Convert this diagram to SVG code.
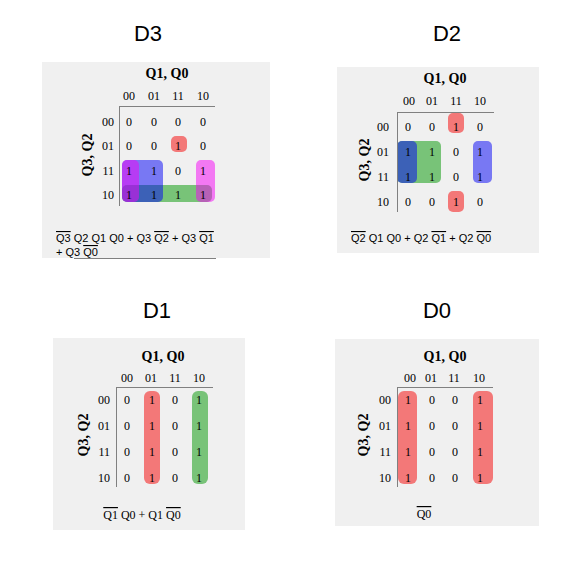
<svg xmlns="http://www.w3.org/2000/svg" width="583" height="574" viewBox="0 0 583 574">
<style>
.bg{fill:#f0f0f0}
.title{font-family:"Liberation Sans",Arial,sans-serif;font-size:22px;fill:#000;text-anchor:middle}
.hd{font-family:"Liberation Serif","Times New Roman",serif;font-size:14px;font-weight:bold;fill:#000;text-anchor:middle}
.c{font-family:"Liberation Serif","Times New Roman",serif;font-size:12px;fill:#000;text-anchor:middle}
.r{font-family:"Liberation Serif","Times New Roman",serif;font-size:12px;fill:#000;text-anchor:end}
.ex{font-family:"Liberation Sans",Arial,sans-serif;font-size:11px;fill:#000}
.exs{font-family:"Liberation Serif","Times New Roman",serif;font-size:12px;fill:#000;text-anchor:middle}
.ol{text-decoration:overline}
.g{stroke:#808080;stroke-width:1;fill:none}
.red{fill:rgba(245,0,0,0.5)}
.blue{fill:rgba(0,0,245,0.5)}
.green{fill:rgba(0,150,0,0.5)}
.mag{fill:rgba(245,0,245,0.5)}
</style>

<text class="title" x="148" y="41">D3</text>
<text class="title" x="447" y="41">D2</text>
<text class="title" x="157" y="318">D1</text>
<text class="title" x="437" y="318">D0</text>

<g id="D3">
<rect class="bg" x="42" y="62" width="228" height="196"/>
<line class="g" x1="74" y1="258.5" x2="216" y2="258.5" stroke="#a0a0a0"/>
<rect class="green" x="122" y="185" width="90" height="17" rx="5"/>
<rect class="blue" x="122" y="160" width="41" height="42" rx="5"/>
<rect class="mag" x="122" y="160" width="17" height="42" rx="5"/>
<rect class="mag" x="196" y="160" width="19" height="42" rx="5"/>
<rect class="red" x="171" y="136" width="16" height="16" rx="5"/>
<line class="g" x1="119.5" y1="107" x2="119.5" y2="206"/>
<line class="g" x1="119" y1="106.5" x2="215" y2="106.5"/>
<text class="hd" x="167" y="78">Q1, Q0</text>
<text class="hd" transform="translate(92,155) rotate(-90)">Q3, Q2</text>
<text class="c" x="129" y="100">00</text><text class="c" x="154" y="100">01</text><text class="c" x="178" y="100">11</text><text class="c" x="203" y="100">10</text>
<text class="r" x="114" y="126">00</text><text class="r" x="114" y="150">01</text><text class="r" x="114" y="175">11</text><text class="r" x="114" y="199">10</text>
<text class="c" x="129" y="126">0</text><text class="c" x="154" y="126">0</text><text class="c" x="178" y="126">0</text><text class="c" x="203" y="126">0</text>
<text class="c" x="129" y="150">0</text><text class="c" x="154" y="150">0</text><text class="c" x="178" y="150">1</text><text class="c" x="203" y="150">0</text>
<text class="c" x="129" y="175">1</text><text class="c" x="154" y="175">1</text><text class="c" x="178" y="175">0</text><text class="c" x="203" y="175">1</text>
<text class="c" x="129" y="199">1</text><text class="c" x="154" y="199">1</text><text class="c" x="178" y="199">1</text><text class="c" x="203" y="199">1</text>
<text class="ex" x="56" y="242"><tspan class="ol">Q3</tspan> Q2 Q1 Q0 + Q3 <tspan class="ol">Q2</tspan> + Q3 <tspan class="ol">Q1</tspan></text>
<text class="ex" x="56" y="256">+ Q3 <tspan class="ol">Q0</tspan></text>
</g>

<g id="D2">
<rect class="bg" x="337" y="67" width="202" height="186"/>
<rect class="green" x="397" y="141" width="44" height="42" rx="5"/>
<rect class="blue" x="397" y="141" width="20" height="42" rx="5"/>
<rect class="blue" x="473" y="141" width="19" height="42" rx="5"/>
<rect class="red" x="448" y="113" width="16" height="20" rx="5"/>
<rect class="red" x="448" y="191" width="16" height="21" rx="5"/>
<line class="g" x1="397.5" y1="112" x2="397.5" y2="212"/>
<line class="g" x1="397" y1="112.5" x2="494" y2="112.5"/>
<text class="hd" x="445" y="83">Q1, Q0</text>
<text class="hd" transform="translate(369,160) rotate(-90)">Q3, Q2</text>
<text class="c" x="409" y="105">00</text><text class="c" x="432" y="105">01</text><text class="c" x="456" y="105">11</text><text class="c" x="480" y="105">10</text>
<text class="r" x="389" y="131">00</text><text class="r" x="389" y="156">01</text><text class="r" x="389" y="181">11</text><text class="r" x="389" y="206">10</text>
<text class="c" x="408" y="131">0</text><text class="c" x="432" y="131">0</text><text class="c" x="456" y="131">1</text><text class="c" x="480" y="131">0</text>
<text class="c" x="408" y="156">1</text><text class="c" x="432" y="156">1</text><text class="c" x="456" y="156">0</text><text class="c" x="480" y="156">1</text>
<text class="c" x="408" y="181">1</text><text class="c" x="432" y="181">1</text><text class="c" x="456" y="181">0</text><text class="c" x="480" y="181">1</text>
<text class="c" x="408" y="206">0</text><text class="c" x="432" y="206">0</text><text class="c" x="456" y="206">1</text><text class="c" x="480" y="206">0</text>
<text class="ex" x="351" y="242"><tspan class="ol">Q2</tspan> Q1 Q0 + Q2 <tspan class="ol">Q1</tspan> + Q2 <tspan class="ol">Q0</tspan></text>
</g>

<g id="D1">
<rect class="bg" x="53" y="338" width="192" height="192"/>
<rect class="red" x="144" y="391" width="16" height="93" rx="6"/>
<rect class="green" x="192" y="391" width="16" height="93" rx="6"/>
<line class="g" x1="116.5" y1="387" x2="116.5" y2="487"/>
<line class="g" x1="116" y1="387.5" x2="213" y2="387.5"/>
<text class="hd" x="163" y="361">Q1, Q0</text>
<text class="hd" transform="translate(88,435) rotate(-90)">Q3, Q2</text>
<text class="c" x="127" y="382">00</text><text class="c" x="151" y="382">01</text><text class="c" x="175" y="382">11</text><text class="c" x="199" y="382">10</text>
<text class="r" x="110" y="404">00</text><text class="r" x="110" y="430">01</text><text class="r" x="110" y="456">11</text><text class="r" x="110" y="482">10</text>
<text class="c" x="127" y="404">0</text><text class="c" x="152" y="404">1</text><text class="c" x="175" y="404">0</text><text class="c" x="199" y="404">1</text>
<text class="c" x="127" y="430">0</text><text class="c" x="152" y="430">1</text><text class="c" x="175" y="430">0</text><text class="c" x="199" y="430">1</text>
<text class="c" x="127" y="456">0</text><text class="c" x="152" y="456">1</text><text class="c" x="175" y="456">0</text><text class="c" x="199" y="456">1</text>
<text class="c" x="127" y="482">0</text><text class="c" x="152" y="482">1</text><text class="c" x="175" y="482">0</text><text class="c" x="199" y="482">1</text>
<text class="exs" x="142" y="519"><tspan class="ol">Q1</tspan> Q0 + Q1 <tspan class="ol">Q0</tspan></text>
</g>

<g id="D0">
<rect class="bg" x="335" y="339" width="204" height="187"/>
<rect class="red" x="398" y="391" width="19" height="93" rx="6"/>
<rect class="red" x="473" y="391" width="20" height="93" rx="6"/>
<line class="g" x1="397.5" y1="387" x2="397.5" y2="487"/>
<line class="g" x1="397" y1="387.5" x2="493" y2="387.5"/>
<text class="hd" x="445" y="361">Q1, Q0</text>
<text class="hd" transform="translate(368,435) rotate(-90)">Q3, Q2</text>
<text class="c" x="410" y="382">00</text><text class="c" x="431" y="382">01</text><text class="c" x="454" y="382">11</text><text class="c" x="479" y="382">10</text>
<text class="r" x="391" y="404">00</text><text class="r" x="391" y="430">01</text><text class="r" x="391" y="456">11</text><text class="r" x="391" y="482">10</text>
<text class="c" x="408" y="404">1</text><text class="c" x="432" y="404">0</text><text class="c" x="455" y="404">0</text><text class="c" x="480" y="404">1</text>
<text class="c" x="408" y="430">1</text><text class="c" x="432" y="430">0</text><text class="c" x="455" y="430">0</text><text class="c" x="480" y="430">1</text>
<text class="c" x="408" y="456">1</text><text class="c" x="432" y="456">0</text><text class="c" x="455" y="456">0</text><text class="c" x="480" y="456">1</text>
<text class="c" x="408" y="482">1</text><text class="c" x="432" y="482">0</text><text class="c" x="455" y="482">0</text><text class="c" x="480" y="482">1</text>
<text class="exs" x="424" y="518"><tspan class="ol">Q0</tspan></text>
</g>
</svg>
